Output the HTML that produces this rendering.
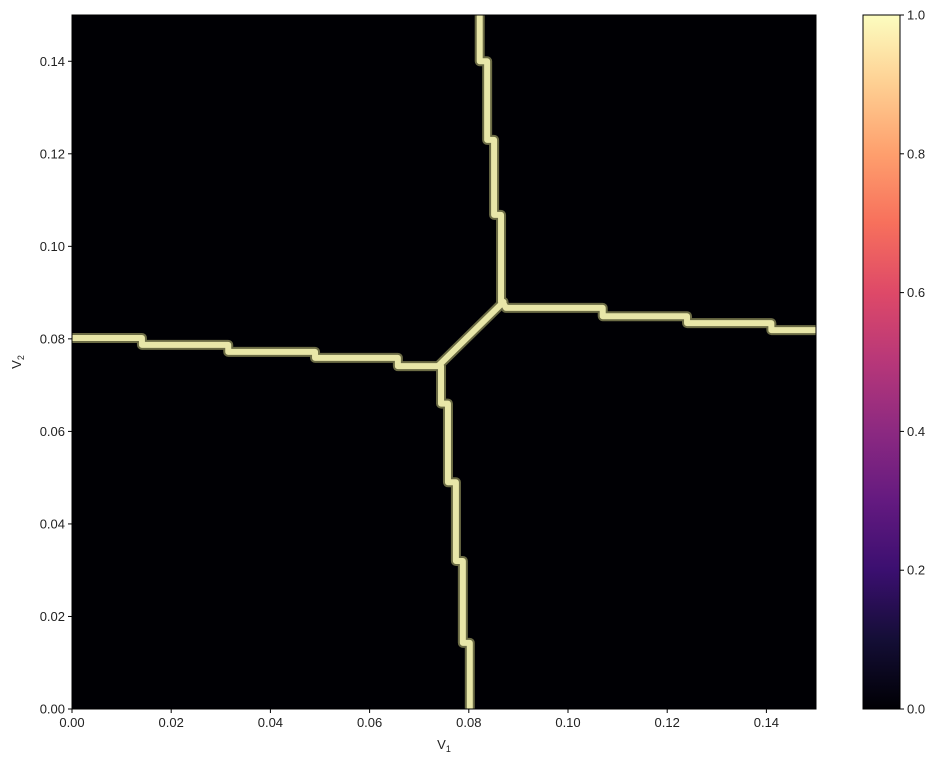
<!DOCTYPE html>
<html><head><meta charset="utf-8"><style>
body{margin:0;background:#fff;font-family:"Liberation Sans",sans-serif;}
svg text{font-family:"Liberation Sans",sans-serif;font-size:13px;fill:#222;}
</style></head><body>
<svg id="c" width="939" height="764">
<defs>
<linearGradient id="magma" x1="0" y1="1" x2="0" y2="0">
<stop offset="0" stop-color="#000004"/><stop offset="0.1" stop-color="#140e36"/>
<stop offset="0.2" stop-color="#3b0f70"/><stop offset="0.3" stop-color="#641a80"/>
<stop offset="0.4" stop-color="#8c2981"/><stop offset="0.5" stop-color="#b73779"/>
<stop offset="0.6" stop-color="#de4968"/><stop offset="0.7" stop-color="#f7705c"/>
<stop offset="0.8" stop-color="#fe9f6d"/><stop offset="0.9" stop-color="#fecf92"/>
<stop offset="1" stop-color="#fcfdbf"/></linearGradient>
</defs>
</svg>
<script>
const xTicks=[0,0.02,0.04,0.06,0.08,0.10,0.12,0.14];
const yTicks=[0,0.02,0.04,0.06,0.08,0.10,0.12,0.14];
const cbTicks=[0,0.2,0.4,0.6,0.8,1.0];
// boundary branches as [v1,v2] step points
const leftBranch=[[0,0.0802],[0.0141,0.0802],[0.0141,0.0787],[0.0315,0.0787],[0.0315,0.0772],[0.049,0.0772],[0.049,0.0759],[0.0657,0.0759],[0.0657,0.0741],[0.0738,0.0741]];
const bottomBranch=[[0.0802,0],[0.0802,0.0143],[0.0788,0.0143],[0.0788,0.032],[0.0774,0.032],[0.0774,0.049],[0.0758,0.049],[0.0758,0.066],[0.0744,0.066],[0.0744,0.0741]];
const diagBranch=[[0.0738,0.0741],[0.0870,0.0880]];
const topBranch=[[0.0868,0.0880],[0.0865,0.0880],[0.0865,0.1068],[0.0851,0.1068],[0.0851,0.123],[0.0837,0.123],[0.0837,0.140],[0.0822,0.140],[0.0822,0.15]];
const rightBranch=[[0.0868,0.0880],[0.0875,0.0867],[0.107,0.0867],[0.107,0.0849],[0.124,0.0849],[0.124,0.0834],[0.141,0.0834],[0.141,0.0819],[0.15,0.0819]];
const L=72,R=816,T=15,B=709;
const sx=v=>L+(v/0.15)*(R-L), sy=v=>B-(v/0.15)*(B-T);
const svg=document.getElementById('c'),NS='http://www.w3.org/2000/svg';
function mk(t,a,p){const e=document.createElementNS(NS,t);for(const k in a)e.setAttribute(k,a[k]);(p||svg).appendChild(e);return e;}
const bg=mk('rect',{x:L,y:T,width:R-L,height:B-T,fill:'#000004'});


const g=mk('g',{});


const cp=mk('clipPath',{id:'cl'});mk('rect',{x:L,y:T,width:R-L,height:B-T},cp);
g.setAttribute('clip-path','url(#cl)');
const branches=[['left-boundary',leftBranch],['bottom-boundary',bottomBranch],['diagonal-boundary',diagBranch],['top-boundary',topBranch],['right-boundary',rightBranch]];
[[10,'#6b6b45'],[6,'#e8e6a8']].forEach(([w,c])=>{
branches.forEach(([n,pts])=>{
const p=mk('polyline',{points:pts.map(q=>sx(q[0])+','+sy(q[1])).join(' '),fill:'none',stroke:c,'stroke-width':w,'stroke-linejoin':'round','stroke-linecap':'round'},g);


});});
const fr=mk('rect',{x:L,y:T,width:R-L,height:B-T,fill:'none',stroke:'#000','stroke-width':1});


xTicks.forEach(v=>{mk('line',{x1:sx(v),x2:sx(v),y1:B,y2:B+4,stroke:'#000'});
const t=mk('text',{x:sx(v),y:B+18,'text-anchor':'middle'});t.textContent=v.toFixed(2);

});
yTicks.forEach(v=>{mk('line',{x1:L-4,x2:L,y1:sy(v),y2:sy(v),stroke:'#000'});
const t=mk('text',{x:L-7,y:sy(v)+4.5,'text-anchor':'end'});t.textContent=v.toFixed(2);

});
const xl=mk('text',{x:(L+R)/2,y:749,'text-anchor':'middle'});xl.innerHTML='V<tspan font-size="9" dy="3">1</tspan>';


const yl=mk('text',{x:0,y:0,'text-anchor':'middle',transform:'translate(21,'+((T+B)/2)+') rotate(-90)'});yl.innerHTML='V<tspan font-size="9" dy="3">2</tspan>';


const CL=863,CR=900;const cy=v=>B-v*(B-T);
const cb=mk('rect',{x:CL,y:T,width:CR-CL,height:B-T,fill:'url(#magma)',stroke:'#000','stroke-width':1});


cbTicks.forEach(v=>{mk('line',{x1:CR,x2:CR+4,y1:cy(v),y2:cy(v),stroke:'#000'});
const t=mk('text',{x:CR+7,y:cy(v)+4.5});t.textContent=v.toFixed(1);

});
</script>
</body></html>
